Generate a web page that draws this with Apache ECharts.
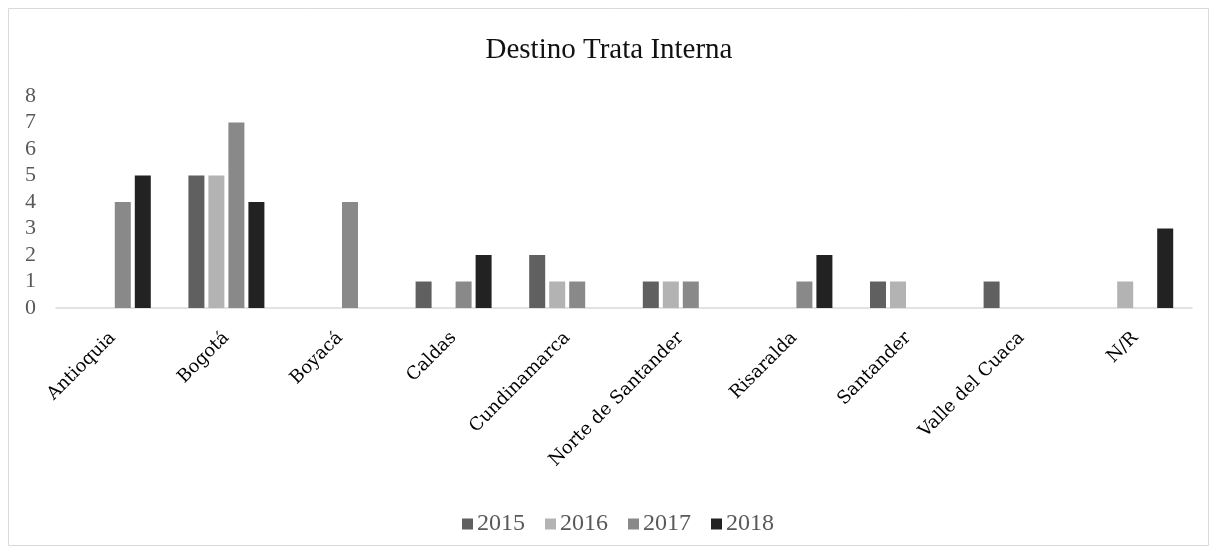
<!DOCTYPE html>
<html>
<head>
<meta charset="utf-8">
<script src="https://cdn.jsdelivr.net/npm/echarts@6/dist/echarts.min.js"></script>
<style>
html,body{margin:0;padding:0;background:#fff;}
#c{width:1218px;height:555px;}
</style>
</head>
<body>
<div id="c"></div>
<script>
const categories = ['Antioquia','Bogotá','Boyacá','Caldas','Cundinamarca','Norte de Santander','Risaralda','Santander','Valle del Cuaca','N/R'];
const years = ['2015','2016','2017','2018'];
const v2015 = [0,5,0,1,2,1,0,1,1,0];
const v2016 = [0,5,0,0,1,1,0,1,0,1];
const v2017 = [4,7,4,1,1,1,1,0,0,0];
const v2018 = [5,4,0,2,0,0,2,0,0,3];
const yTicks = [0,1,2,3,4,5,6,7,8];

const seriesValues = [v2015, v2016, v2017, v2018];
const colors = ['#606060','#b3b3b3','#898989','#222222'];

const chart = echarts.init(document.getElementById('c'), null, {renderer:'canvas'});
const serif = '"Liberation Serif","Times New Roman",serif';
chart.setOption({
  animation:false,
  color: colors,
  graphic:[{type:'rect',shape:{x:8.5,y:8.5,width:1200,height:537},style:{fill:'none',stroke:'#d9d9d9',lineWidth:1},silent:true,z:-1}],
  title:{text:'Destino Trata Interna',left:'center',top:31,textStyle:{fontFamily:serif,fontSize:29,fontWeight:'normal',color:'#111'}},
  legend:{data:years,bottom:14,left:457,itemWidth:11,itemHeight:11,itemGap:20,icon:'rect',
    textStyle:{fontFamily:serif,fontSize:24,color:'#595959',padding:[0,0,0,-1]}},
  grid:{left:56,right:26,top:96,bottom:247,containLabel:false},
  xAxis:{type:'category',data:categories,
    axisLine:{lineStyle:{color:'#d9d9d9',width:1.5}},axisTick:{show:false},
    axisLabel:{interval:0,rotate:45,fontFamily:'"DejaVu Serif",serif',fontSize:18,color:'#000',margin:27}},
  yAxis:{type:'value',min:0,max:8,interval:1,
    axisLine:{show:false},axisTick:{show:false},splitLine:{show:false},
    axisLabel:{fontFamily:serif,fontSize:22,color:'#595959',margin:20,
      formatter:function(v){return yTicks.indexOf(v)>=0?String(v):'';}}},
  series: years.map((y,i)=>({name:y,type:'bar',data:seriesValues[i],barWidth:16,barGap:'25%',
    itemStyle:{color:colors[i]}}))
});
</script>
</body>
</html>
